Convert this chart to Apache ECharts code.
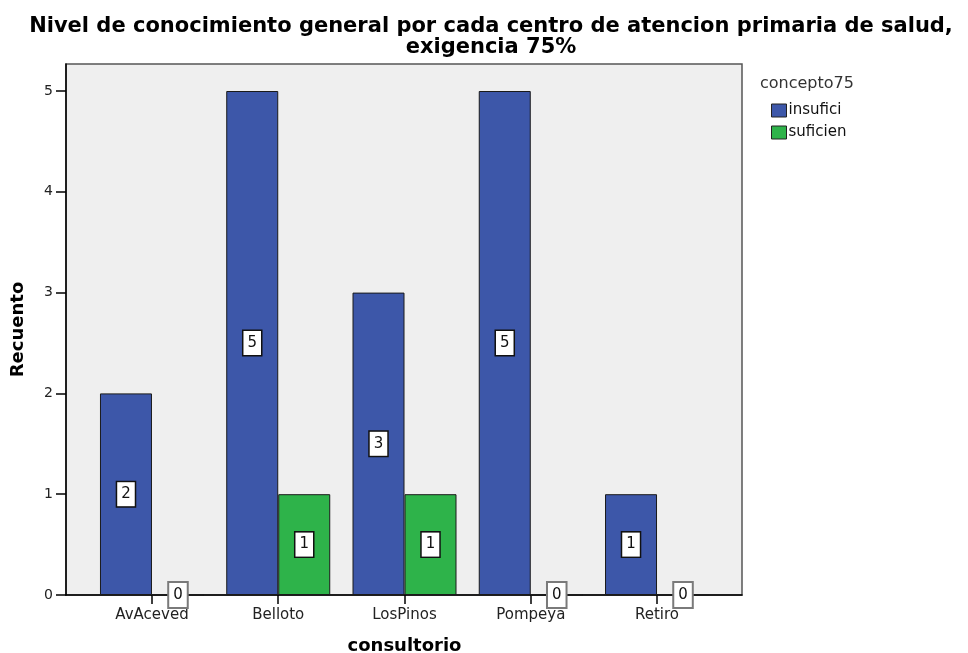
<!DOCTYPE html>
<html>
<head>
<meta charset="utf-8">
<script src="https://cdn.jsdelivr.net/npm/echarts@6/dist/echarts.min.js"></script>
<style>
  html, body { margin: 0; padding: 0; background: #fff; }
  #chart { width: 968px; height: 653px; }
</style>
</head>
<body>
<div id="chart"></div>
<script>
// Counts per health centre, split by knowledge level (75% threshold)
const categories = ['AvAceved', 'Belloto', 'LosPinos', 'Pompeya', 'Retiro'];
const insuficiValues = [2, 5, 3, 5, 1];
const suficienValues = [0, 1, 1, 0, 0];
const yTicks = [0, 1, 2, 3, 4, 5];

const FONT = '"DejaVu Sans", Verdana, sans-serif';
const BLUE = '#3D57A9';
const GREEN = '#2EB34A';

function labelled(values) {
  return values.map(v => ({
    value: v,
    label: {
      borderColor: v === 0 ? '#7a7a7a' : '#111',
      borderWidth: v === 0 ? 2 : 1.5
    }
  }));
}

const barLabel = {
  show: true,
  position: 'inside',
  color: '#111',
  fontFamily: FONT,
  fontSize: 15,
  backgroundColor: '#fff',
  padding: [5, 4, 4, 4]
};

const chart = echarts.init(document.getElementById('chart'), null, { renderer: 'canvas' });

chart.setOption({
  backgroundColor: '#fff',
  animation: false,
  title: [
    {
      text: 'Nivel de conocimiento general por cada centro de atencion primaria de salud,\nexigencia 75%',
      left: 486,
      top: 11,
      textAlign: 'center',
      textStyle: { fontFamily: FONT, fontWeight: 'bold', fontSize: 21, color: '#000', lineHeight: 21 }
    },
    {
      text: 'concepto75',
      left: 755,
      top: 71,
      textStyle: { fontFamily: FONT, fontWeight: 'normal', fontSize: 16, color: '#333' }
    }
  ],
  legend: {
    orient: 'vertical',
    left: 766,
    top: 98,
    itemWidth: 15,
    itemHeight: 13,
    itemGap: 7,
    icon: 'rect',
    data: ['insufici', 'suficien'],
    textStyle: { fontFamily: FONT, fontSize: 15, color: '#111', padding: [0, 0, 0, -3] },
    itemStyle: { borderColor: '#222', borderWidth: 1 }
  },
  grid: [
    // plot frame
    { left: 66, right: 226, top: 64, bottom: 58, show: true, backgroundColor: '#EFEFEF', borderColor: '#555', borderWidth: 1.5, containLabel: false, outerBoundsMode: 'none' },
    // data area (category bands)
    { left: 88.85, right: 247.85, top: 91, bottom: 58, containLabel: false, outerBoundsMode: 'none' }
  ],
  xAxis: [
    {
      gridIndex: 0, type: 'value', min: 0, max: 1,
      axisLine: { show: true, lineStyle: { color: '#000', width: 1.5 } },
      axisTick: { show: false }, axisLabel: { show: false }, splitLine: { show: false }
    },
    {
      gridIndex: 1, type: 'category', data: categories,
      axisLine: { show: false },
      axisTick: { show: true, alignWithLabel: true, length: 9, lineStyle: { color: '#000', width: 1.5 } },
      axisLabel: { fontFamily: FONT, fontSize: 15, color: '#222', margin: 13 },
      name: 'consultorio',
      nameLocation: 'middle',
      nameGap: 42,
      nameTextStyle: { fontFamily: FONT, fontWeight: 'bold', fontSize: 18, color: '#000' }
    }
  ],
  yAxis: [
    {
      gridIndex: 0, type: 'value', min: 0, max: 1,
      axisLine: { show: true, lineStyle: { color: '#000', width: 1.5 } },
      axisTick: { show: false }, axisLabel: { show: false }, splitLine: { show: false },
      name: 'Recuento',
      nameLocation: 'middle',
      nameGap: 39,
      nameRotate: 90,
      nameTextStyle: { fontFamily: FONT, fontWeight: 'bold', fontSize: 18, color: '#000' }
    },
    {
      gridIndex: 1, type: 'value', min: yTicks[0], max: yTicks[yTicks.length - 1], interval: 1,
      offset: 22.85,
      axisLine: { show: false },
      axisTick: { show: true, length: 10, lineStyle: { color: '#000', width: 1.5 } },
      axisLabel: { fontFamily: FONT, fontSize: 14, color: '#222', margin: 13 },
      splitLine: { show: false }
    }
  ],
  series: [
    {
      name: 'insufici', type: 'bar', xAxisIndex: 1, yAxisIndex: 1,
      barWidth: 52, barGap: '0%',
      itemStyle: { color: BLUE, borderColor: '#1a1a1a', borderWidth: 1 },
      label: barLabel,
      data: labelled(insuficiValues)
    },
    {
      name: 'suficien', type: 'bar', xAxisIndex: 1, yAxisIndex: 1,
      barWidth: 52, barGap: '0%',
      itemStyle: { color: GREEN, borderColor: '#1a1a1a', borderWidth: 1 },
      label: barLabel,
      data: labelled(suficienValues)
    }
  ]
});
</script>
</body>
</html>
